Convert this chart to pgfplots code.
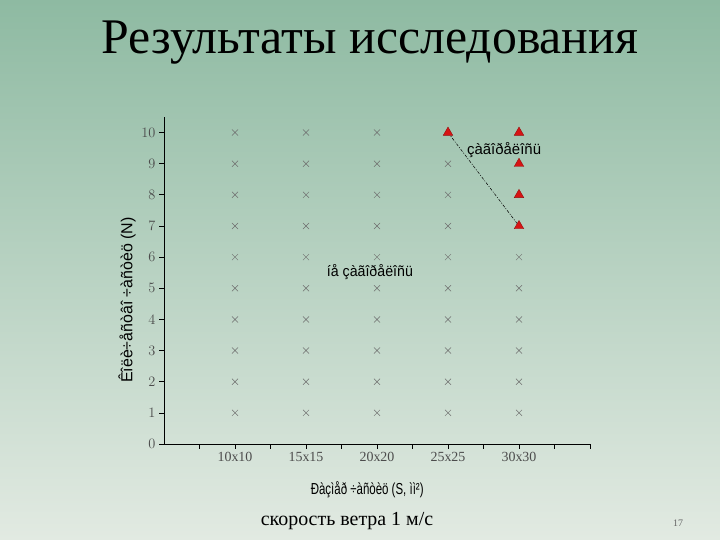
\documentclass[border=0pt]{standalone}
\usepackage{fontspec}
\setmainfont{Liberation Serif}
\setsansfont{Liberation Sans}
\usepackage{pgfplots}
\pgfplotsset{compat=1.18}

\definecolor{bgtop}{RGB}{142,186,162}
\definecolor{bgmid}{RGB}{196,220,198}
\definecolor{bgbot}{RGB}{226,234,226}
\definecolor{crossgray}{RGB}{110,110,110}
\definecolor{trired}{RGB}{215,20,20}

\begin{document}
\begin{tikzpicture}[x=1bp,y=1bp]
\useasboundingbox (0,0) rectangle (720,540);
\shade[top color=bgtop, middle color=bgmid, bottom color=bgbot] (0,0) rectangle (720,540);

\node[font=\fontsize{50}{50}\selectfont] at (370,497) {Результаты исследования};
\node[font=\fontsize{20}{20}\selectfont] at (347,19) {скорость ветра 1 м/с};
\node[font=\fontsize{10}{10}\selectfont, text=black!60] at (678,17) {17};

\begin{axis}[
  at={(164bp,96bp)}, anchor=south west,
  scale only axis, width=426bp, height=327bp,
  axis lines=left, axis line style={-, black, line width=0.8pt},
  xmin=0, xmax=6, ymin=0, ymax=10.5,
  xtick={1,2,3,4,5},
  xticklabels={10x10,15x15,20x20,25x25,30x30},
  minor xtick={0.5,1.5,2.5,3.5,4.5,5.5,6},
  ytick={0,1,...,10},
  tick align=outside,
  major tick length=5bp, minor tick length=5bp,
  tick style={black, line width=0.7pt},
  ticklabel style={font=\fontsize{14}{14}\selectfont, text=black!70},
  xlabel={\scalebox{0.72}[1]{Ðàçìåð ÷àñòèö (S, ìì²)}},
  xlabel style={font=\sffamily\fontsize{16}{16}\selectfont, at={(rel axis cs:0.477,0)}, yshift=-46bp, anchor=center},
  ylabel={Êîëè÷åñòâî ÷àñòèö (N)},
  ylabel style={font=\sffamily\fontsize{16}{16}\selectfont, at={(axis description cs:-0.087,0.44)}, anchor=center},
  clip=false,
]
% not ignited
\addplot[only marks, mark=x, mark size=4.3bp, mark options={crossgray, line width=0.5pt}] coordinates {
  (1,1) (1,2) (1,3) (1,4) (1,5) (1,6) (1,7) (1,8) (1,9) (1,10)
  (2,1) (2,2) (2,3) (2,4) (2,5) (2,6) (2,7) (2,8) (2,9) (2,10)
  (3,1) (3,2) (3,3) (3,4) (3,5) (3,6) (3,7) (3,8) (3,9) (3,10)
  (4,1) (4,2) (4,3) (4,4) (4,5) (4,6) (4,7) (4,8) (4,9)
  (5,1) (5,2) (5,3) (5,4) (5,5) (5,6)
};
% boundary
\addplot[black, line width=0.5pt, dash pattern=on 3pt off 1.5pt on 1pt off 1.5pt] coordinates {(4,10) (5,7)};
% ignited
\addplot[only marks, mark=triangle*, mark size=5.5bp, mark options={fill=trired, draw=trired!70!black, line width=0.4pt}] coordinates {
  (4,10) (5,7) (5,8) (5,9) (5,10)
};
\node[font=\sffamily\fontsize{15}{15}\selectfont] at (axis cs:4.79,9.45) {çàãîðåëîñü};
\node[font=\sffamily\fontsize{15}{15}\selectfont] at (axis cs:2.9,5.53) {\scalebox{0.95}[1]{íå çàãîðåëîñü}};
\end{axis}
\end{tikzpicture}
\end{document}
